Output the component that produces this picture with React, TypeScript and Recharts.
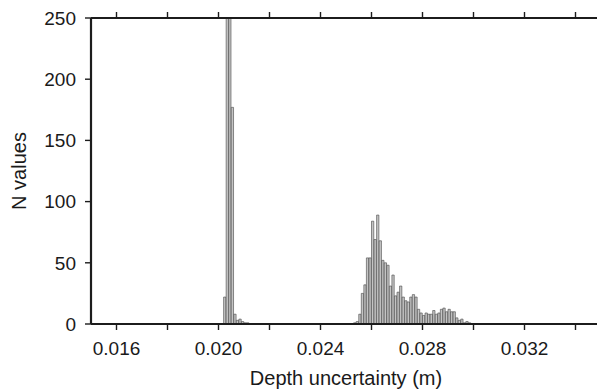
import React from 'react';
import { Bar, BarChart, XAxis, YAxis } from 'recharts';

// histogram bins (left edges, bin width 0.0001 m) and counts
const BIN_WIDTH = 0.0001;

const spikeBins = [0.0202, 0.0203, 0.0204, 0.0205, 0.0206, 0.0207, 0.0208, 0.0209, 0.021, 0.0211];
const spikeCounts = [22, 560, 470, 177, 8, 3, 4, 2, 1, 1];

const broadBins = [
  0.0253, 0.0254, 0.0255, 0.0256, 0.0257, 0.0258, 0.0259, 0.026, 0.0261, 0.0262,
  0.0263, 0.0264, 0.0265, 0.0266, 0.0267, 0.0268, 0.0269, 0.027, 0.0271, 0.0272,
  0.0273, 0.0274, 0.0275, 0.0276, 0.0277, 0.0278, 0.0279, 0.028, 0.0281, 0.0282,
  0.0283, 0.0284, 0.0285, 0.0286, 0.0287, 0.0288, 0.0289, 0.029, 0.0291, 0.0292,
  0.0293, 0.0294, 0.0295, 0.0296, 0.0297, 0.0298,
];
const broadCounts = [
  1, 2, 8, 25, 32, 54, 54, 84, 69, 89,
  68, 52, 50, 48, 31, 40, 23, 26, 31, 22,
  19, 18, 22, 24, 22, 12, 9, 7, 9, 8,
  8, 11, 8, 9, 12, 13, 10, 12, 10, 10,
  5, 3, 4, 1, 2, 1,
];

const xTicks = [0.016, 0.018, 0.02, 0.022, 0.024, 0.026, 0.028, 0.03, 0.032, 0.034];
const xTickLabels = ['0.016', '', '0.020', '', '0.024', '', '0.028', '', '0.032', ''];
const yTicks = [0, 50, 100, 150, 200, 250];

const data = [
  ...spikeBins.map((b, i) => ({ x: b + BIN_WIDTH / 2, n: spikeCounts[i] })),
  ...broadBins.map((b, i) => ({ x: b + BIN_WIDTH / 2, n: broadCounts[i] })),
];

const axisColor = '#1c1c1c';
const textColor = '#1a1a1a';
const font = '"Liberation Sans", Arial, Helvetica, sans-serif';
const axisLine = { stroke: axisColor, strokeWidth: 2.2 };
const tickLine = { stroke: axisColor, strokeWidth: 1.4 };

export default function App() {
  const fmtX = (v: number) => {
    const i = xTicks.findIndex(t => Math.abs(t - v) < 1e-9);
    return i >= 0 ? xTickLabels[i] : '';
  };

  return (
    <div style={{ width: 597, height: 389, overflow: 'hidden', background: '#fff', fontFamily: font }}>
      <style>{'body{margin:0;overflow:hidden}'}</style>
      <BarChart
        width={620}
        height={389}
        data={data}
        margin={{ top: 17, right: 19, bottom: 0, left: 0 }}
        barCategoryGap={0}
      >
        <XAxis
          dataKey="x"
          type="number"
          domain={[0.015, 0.035]}
          allowDataOverflow
          ticks={xTicks}
          interval={0}
          tickFormatter={fmtX}
          height={65}
          tickSize={6}
          tickMargin={12}
          axisLine={axisLine}
          tickLine={tickLine}
          tick={{ fill: textColor, fontSize: 19, fontFamily: font }}
          label={{
            value: 'Depth uncertainty (m)',
            position: 'insideBottom',
            offset: 4,
            fill: textColor,
            fontSize: 20,
            fontFamily: font,
          }}
        />
        <XAxis
          xAxisId="top"
          orientation="top"
          dataKey="x"
          type="number"
          domain={[0.015, 0.035]}
          allowDataOverflow
          ticks={xTicks}
          interval={0}
          height={1}
          tickSize={6}
          tickFormatter={() => ''}
          axisLine={axisLine}
          tickLine={tickLine}
        />
        <YAxis
          type="number"
          domain={[0, 250]}
          allowDataOverflow
          ticks={yTicks}
          interval={0}
          width={91}
          tickSize={6}
          tickMargin={9}
          axisLine={axisLine}
          tickLine={tickLine}
          tick={{ fill: textColor, fontSize: 19, fontFamily: font }}
          label={{
            value: 'N values',
            angle: -90,
            position: 'insideLeft',
            offset: 19,
            fill: textColor,
            fontSize: 20,
            fontFamily: font,
            style: { textAnchor: 'middle' },
          }}
        />
        <Bar
          dataKey="n"
          barSize={2.55}
          fill="#c4c4c4"
          stroke="#444"
          strokeWidth={0.6}
          isAnimationActive={false}
        />
      </BarChart>
    </div>
  );
}
